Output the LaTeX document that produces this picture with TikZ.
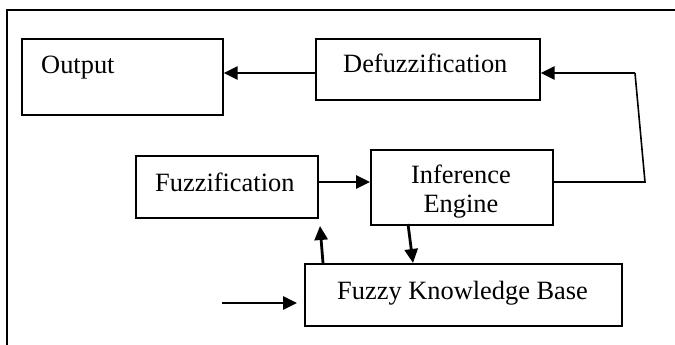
\documentclass[tikz,border=0pt]{standalone}
\usepackage{fontspec}
\setmainfont{Liberation Serif}
\usetikzlibrary{arrows.meta}
\begin{document}
\begin{tikzpicture}[x=1pt,y=-1pt,
  box/.style={draw,line width=1.6pt,inner sep=0pt,anchor=north west},
  lbl/.style={inner sep=0pt,font=\fontsize{26.4pt}{29pt}\selectfont},
  arr/.style={line width=2.8pt,-{Triangle[length=14pt,width=13pt]}},
  thinln/.style={line width=1.6pt}]
\useasboundingbox (0,0) rectangle (675,345);

% surrounding frame
\draw[line width=1.6pt] (7,345) -- (7,10) -- (676,10);

% blocks
\node[box,minimum width=201pt,minimum height=76pt] (out) at (21,38) {};
\node[box,minimum width=224pt,minimum height=61pt] (defz) at (315,38) {};
\node[box,minimum width=182pt,minimum height=62pt] (fuzz) at (135,155) {};
\node[box,minimum width=182pt,minimum height=75pt] (inf) at (370,149) {};
\node[box,minimum width=317pt,minimum height=62pt] (kb) at (304,263) {};

% block texts
\node[lbl,anchor=base west] (tout) at (41,74) {Output};
\node[lbl,anchor=base west] (tdefz) at (343,73) {Defuzzification};
\node[lbl,anchor=base west] (tfuzz) at (155,191) {Fuzzification};
\node[lbl,anchor=base] (tinf) at (461,183) {Inference};
\node[lbl,anchor=base] (teng) at (461,212) {Engine};
\node[lbl,anchor=base west] (tkb) at (337,299) {Fuzzy Knowledge Base};

% helper levels and bends
\coordinate (ytop) at (0,73);
\coordinate (ymid) at (0,182);
\coordinate (fbLow) at (645,182);
\coordinate (fbHigh) at (635,73);
\coordinate (upTail) at (323,263);
\coordinate (upTip) at (320,226);
\coordinate (dnTail) at (408,224);
\coordinate (dnTip) at (413,263);
\coordinate (inTail) at (222,303);
\coordinate (inTip) at (297,303);

% connectors
\draw[arr] (defz.west |- ytop) -- (out.east |- ytop);
\draw[thinln] (inf.east |- ymid) -- (fbLow) -- (fbHigh);
\draw[arr] (fbHigh) -- (defz.east |- ytop);
\draw[arr] (fuzz.east |- ymid) -- (inf.west |- ymid);
\draw[arr] (upTail) -- (upTip);
\draw[arr] (dnTail) -- (dnTip);
\draw[arr] (inTail) -- (inTip);
\end{tikzpicture}
\end{document}
